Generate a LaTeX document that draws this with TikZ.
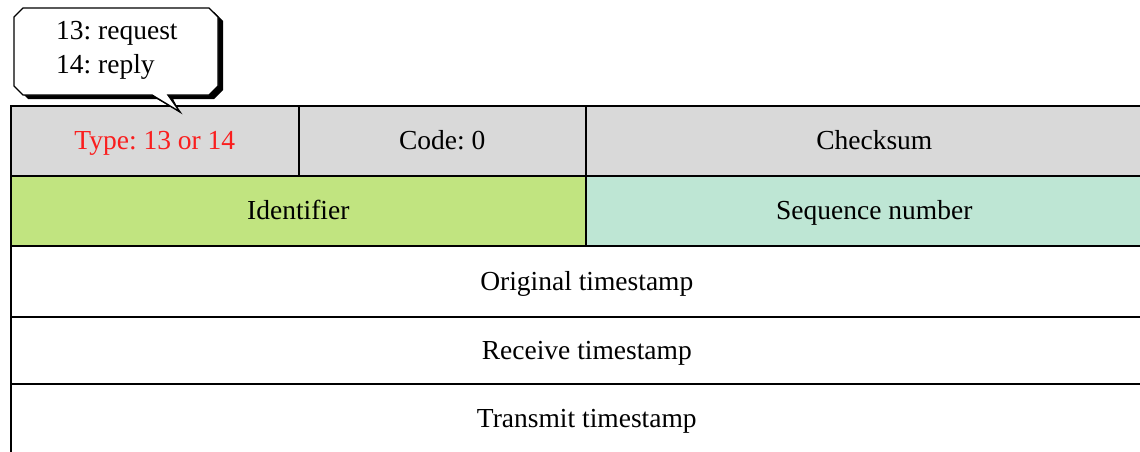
\documentclass[tikz,border=0pt]{standalone}
\usepackage{fontspec}
\setmainfont{Liberation Serif}
\frenchspacing
\definecolor{hdrgray}{RGB}{217,217,217}
\definecolor{idgreen}{RGB}{193,228,128}
\definecolor{seqteal}{RGB}{190,230,212}
\definecolor{typered}{RGB}{250,30,30}
\begin{document}
\begin{tikzpicture}[x=1pt,y=-1pt,
  cell/.style={draw=black,line width=1.6pt,rectangle,inner sep=0pt,anchor=north west,
    text height=23pt,text depth=5pt,
    font=\fontsize{27.5}{33}\selectfont,text=black},
  callout/.style={draw=black,line width=1.4pt,fill=white},
  calltext/.style={font=\fontsize{27.5}{34}\selectfont,align=left,inner sep=0pt,anchor=north west}]
\useasboundingbox (0,0) rectangle (1140,452);
% header row
\node[cell,fill=hdrgray,minimum width=288,minimum height=70,text=typered] (type) at (10,105) {Type: 13 or 14};
\node[cell,fill=hdrgray,minimum width=287,minimum height=70] (code) at (298,105) {Code: 0};
\node[cell,fill=hdrgray,minimum width=577,minimum height=70] (checksum) at (585,105) {Checksum};
% second row
\node[cell,fill=idgreen,minimum width=575,minimum height=70] (ident) at (10,175) {Identifier};
\node[cell,fill=seqteal,minimum width=577,minimum height=70] (seqnum) at (585,175) {Sequence number};
% timestamps
\node[cell,fill=white,minimum width=1152,minimum height=71] (orig) at (10,245) {Original timestamp};
\node[cell,fill=white,minimum width=1152,minimum height=67] (recv) at (10,316) {Receive timestamp};
\node[cell,fill=white,minimum width=1152,minimum height=70] (trans) at (10,383) {Transmit timestamp};
% callout
\coordinate (tip) at (180,112);
\fill[black,shift={(5,4)}] (23,8) -- (209,8) -- (218,17) -- (218,86) -- (209,95) -- (168,95) -- (tip) -- (152,95) -- (23,95) -- (14,86) -- (14,17) -- cycle;
\draw[callout] (23,8) -- (209,8) -- (218,17) -- (218,86) -- (209,95) -- (168,95) -- (tip) -- (152,95) -- (23,95) -- (14,86) -- (14,17) -- cycle;
\node[calltext] (note) at (56,21) {13: request\\14: reply};
\end{tikzpicture}
\end{document}
